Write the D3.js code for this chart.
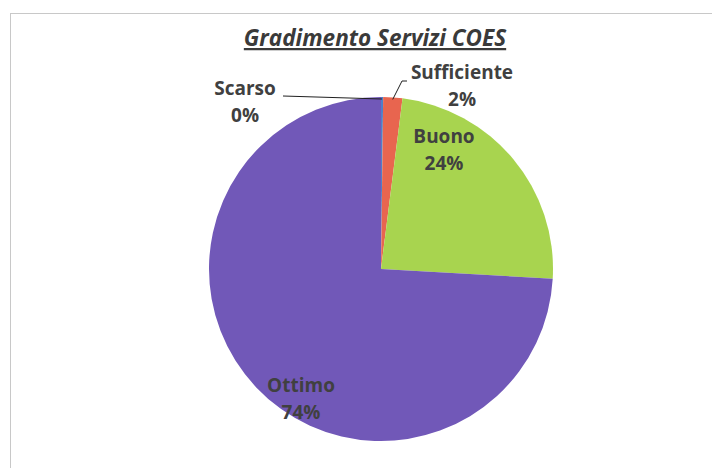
<!DOCTYPE html>
<html>
<head>
<meta charset="utf-8">
<script src="https://cdn.jsdelivr.net/npm/d3@7"></script>
<style>
  body { margin: 0; background: #fff; }
  text { font-family: "Open Sans", Lato, sans-serif; }
</style>
</head>
<body>
<svg width="712" height="468"></svg>
<script>
// dati del grafico
var categories = ["Scarso", "Sufficiente", "Buono", "Ottimo"];
var values = [0.2, 1.8, 23.9, 74.1];
var colors = ["#4f7fc8", "#e8654f", "#a8d44f", "#7158b8"];

var width = 712;
var height = 468;
var cx = 381, cy = 269, radius = 172;

var svg = d3.select("svg");

// cornice grigia
svg.append("rect")
    .attr("x", 10.5)
    .attr("y", 13.5)
    .attr("width", width + 20)
    .attr("height", height + 20)
    .attr("fill", "none")
    .attr("stroke", "#c8c8c8")
    .attr("stroke-width", 1);

// titolo
svg.append("text")
    .attr("x", 375)
    .attr("y", 46)
    .style("text-anchor", "middle")
    .style("font-size", "22.5px")
    .style("font-weight", "bold")
    .style("font-style", "italic")
    .style("text-decoration", "underline")
    .attr("fill", "#3a3a3a")
    .text("Gradimento Servizi COES");

var data = categories.map((c, i) => ({ name: c, value: values[i], color: colors[i] }));

var pie = d3.pie()
    .sort(null)
    .value(d => d.value);

var arc = d3.arc()
    .innerRadius(0)
    .outerRadius(radius);

// punto sul bordo della fetta, per le linee di richiamo
var edge = d3.arc()
    .innerRadius(radius - 2)
    .outerRadius(radius - 2);

var g = svg.append("g")
    .attr("transform", "translate(" + cx + "," + cy + ")");

var arcs = pie(data);

g.selectAll("path")
    .data(arcs)
    .enter()
    .append("path")
        .attr("d", arc)
        .attr("fill", d => d.data.color);

// posizione etichette rispetto al centro (come nel grafico Excel)
var labelPos = [[-136, -174], [81, -190], [63, -126], [-80, 123]];
var total = d3.sum(values);

var labels = g.selectAll("g.label")
    .data(arcs)
    .enter()
    .append("g")
        .attr("class", "label")
        .attr("transform", (d, i) => "translate(" + labelPos[i][0] + "," + labelPos[i][1] + ")");

labels.append("text")
    .attr("y", 0)
    .style("text-anchor", "middle")
    .style("font-size", "19px")
    .style("font-weight", "bold")
    .attr("fill", "#404040")
    .text(d => d.data.name);

labels.append("text")
    .attr("y", 27)
    .style("text-anchor", "middle")
    .style("font-size", "19px")
    .style("font-weight", "bold")
    .attr("fill", "#404040")
    .text(d => Math.round(d.value / total * 100) + "%");

// linee di richiamo per Scarso e Sufficiente
var scarsoEnd = edge.centroid(arcs[0]);
g.append("polyline")
    .attr("points", [[labelPos[0][0] + 38, labelPos[0][1] + 1], scarsoEnd].map(p => p.join(",")).join(" "))
    .attr("fill", "none")
    .attr("stroke", "#202020")
    .attr("stroke-width", 1);

var suffEnd = edge.centroid(arcs[1]);
g.append("polyline")
    .attr("points", [[labelPos[1][0] - 55, labelPos[1][1] + 2], [labelPos[1][0] - 60, labelPos[1][1] + 2], suffEnd].map(p => p.join(",")).join(" "))
    .attr("fill", "none")
    .attr("stroke", "#202020")
    .attr("stroke-width", 1);
</script>
</body>
</html>
